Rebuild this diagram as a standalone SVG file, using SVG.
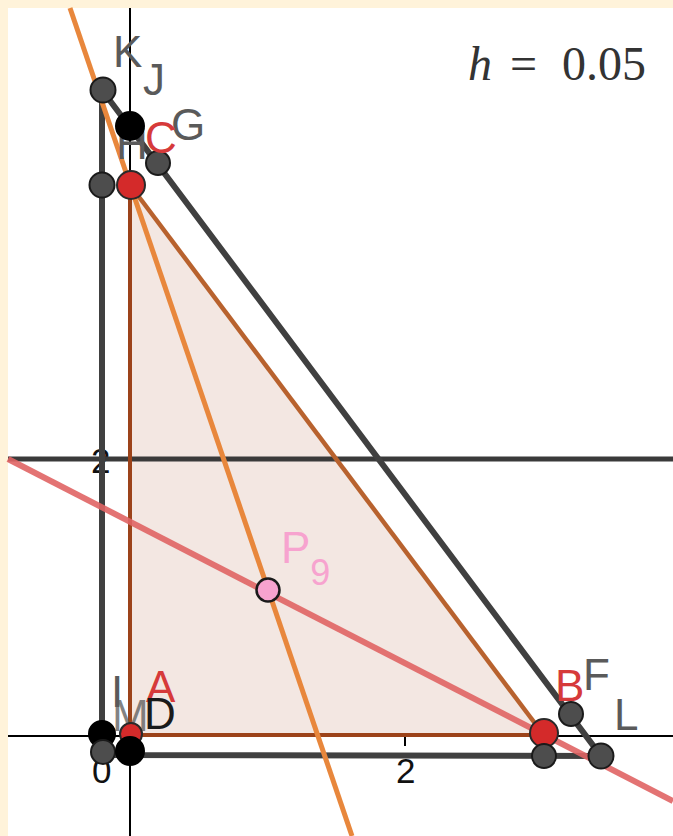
<svg xmlns="http://www.w3.org/2000/svg" width="673" height="836" viewBox="0 0 673 836">
<style>
.lbl{font-family:"Liberation Sans",Arial,sans-serif;font-size:44px}
.gray{fill:#5A5A5A}
.red{fill:#D63A3A}
.blk{fill:#1A1A1A}
.ax{font-family:"Liberation Sans",Arial,sans-serif;font-size:35px;fill:#111111}
.gp{fill:#4D4D4D;stroke:#1A1A1A;stroke-width:2}
.rp{fill:#D42A2A;stroke:#2A2A2A;stroke-width:2}
.bp{fill:#000000;stroke:#000000;stroke-width:2}
.grayline{stroke:#404040;stroke-width:6;fill:none;stroke-linecap:round}
.edge{stroke:#9C431A;stroke-width:4;fill:none}
</style>
<rect x="0" y="0" width="673" height="836" fill="#FFF3DA"/>
<rect x="8" y="8" width="665" height="828" fill="#FFFFFF"/>
<g id="axes">
<line x1="130" y1="8" x2="130" y2="836" stroke="#000" stroke-width="2"/>
<line x1="8" y1="736" x2="673" y2="736" stroke="#000" stroke-width="2"/>
<line x1="405" y1="736" x2="405" y2="746" stroke="#000" stroke-width="2"/>
<text class="ax" x="91" y="473">2</text>
<text class="ax" x="396" y="783">2</text>
<text class="ax" x="92" y="783">0</text>
</g>
<g id="triangle-fill">
<polygon points="130,185 543,734 130,735" fill="#F3E7E2"/>
</g>
<g id="connectors">
<line x1="8" y1="459" x2="673" y2="459" stroke="#3A3A3A" stroke-width="5"/>
<polyline class="grayline" points="102,90 601,756 102,755 102,90"/>
<line class="edge" x1="130" y1="735" x2="543" y2="735"/>
<line class="edge" x1="130" y1="185" x2="130" y2="735"/>
<line x1="130" y1="185" x2="543" y2="734" stroke="#B8622E" stroke-width="4.5"/>
<line x1="70" y1="8" x2="352" y2="836" stroke="#E8873C" stroke-width="5"/>
<line x1="8" y1="459" x2="673" y2="801" stroke="#E06464" stroke-opacity="0.9" stroke-width="6"/>
</g>
<g id="H"><text class="lbl gray" x="116" y="159">H</text></g>
<g id="K"><circle class="gp" cx="103" cy="90" r="12.5"/><text class="lbl gray" x="113" y="67">K</text></g>
<g id="J"><circle class="bp" cx="130" cy="126" r="14"/><text class="lbl gray" x="143" y="95">J</text></g>
<g id="G"><circle class="gp" cx="158" cy="163" r="12"/><text class="lbl gray" x="171" y="140">G</text></g>
<g id="Cl"><circle class="gp" cx="102" cy="185" r="12.5"/></g>
<g id="C"><circle class="rp" cx="131" cy="185" r="14"/><text class="lbl red" x="145" y="153">C</text></g>
<g id="I"><text class="lbl gray" x="111" y="707">I</text></g>
<g id="M"><text class="lbl gray" x="112" y="731" fill-opacity="0.75">M</text></g>
<g id="A"><circle class="rp" cx="131" cy="734" r="11"/><text class="lbl red" x="146" y="702">A</text></g>
<g id="D"><text class="lbl blk" x="144" y="729">D</text></g>
<g id="O1"><circle class="bp" cx="102" cy="734" r="13"/></g>
<g id="O2"><circle class="gp" cx="103" cy="752" r="12"/></g>
<g id="O3"><circle class="bp" cx="130" cy="751" r="14"/></g>
<g id="B"><circle class="rp" cx="544" cy="733" r="14"/><text class="lbl red" x="555" y="701">B</text></g>
<g id="Bl"><circle class="gp" cx="544" cy="756" r="12"/></g>
<g id="F"><circle class="gp" cx="571" cy="714" r="12"/><text class="lbl gray" x="583" y="690">F</text></g>
<g id="L"><circle class="gp" cx="601" cy="756" r="12.5"/><text class="lbl gray" x="614" y="730">L</text></g>
<g id="P9"><circle cx="268" cy="590" r="11.5" fill="#F7A3CF" stroke="#1A1A1A" stroke-width="2.5"/><text class="lbl" fill="#F7A3CF" x="281" y="563">P<tspan font-size="36" dy="22">9</tspan></text></g>
<g id="hval"><text font-family="'Liberation Serif','DejaVu Serif',serif" font-size="48" fill="#333" x="468" y="80"><tspan font-style="italic">h</tspan><tspan x="510">=</tspan><tspan x="562">0.05</tspan></text></g>
</svg>
